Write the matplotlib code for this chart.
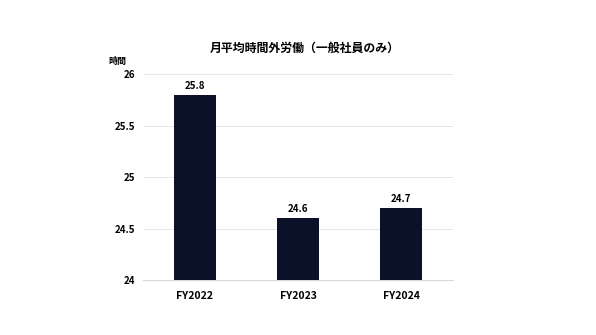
import matplotlib
matplotlib.use("Agg")
import matplotlib.pyplot as plt

plt.rcParams['font.family'] = ['Noto Sans CJK JP', 'DejaVu Sans']

years = ["FY2022", "FY2023", "FY2024"]
hours = [25.8, 24.6, 24.7]
y_ticks = [24, 24.5, 25, 25.5, 26]
y_tick_labels = ["24", "24.5", "25", "25.5", "26"]

fig = plt.figure(figsize=(5.96, 3.35), dpi=100)
ax = fig.add_axes([0.24, 0.164, 0.52, 0.615])

x = range(len(years))
ax.bar(x, [h - 24 for h in hours], bottom=24, width=0.41, color="#0b1128", zorder=3)
for i, h in zip(x, hours):
    ax.text(i, h + 0.04, f"{h}", ha="center", va="bottom", fontsize=7, fontweight="bold")

ax.set_xlim(-0.5, 2.5)
ax.set_ylim(24, 26)
ax.set_yticks(y_ticks)
ax.set_yticklabels(y_tick_labels, fontsize=7, fontweight="bold")
ax.set_xticks(list(x))
ax.set_xticklabels(years, fontsize=7.5, fontweight="bold")
ax.grid(axis="y", color="#e6e6e6", linewidth=0.7, zorder=0)
for s in ["top", "right", "left"]:
    ax.spines[s].set_visible(False)
ax.spines["bottom"].set_color("#d9d9d9")
ax.tick_params(axis="both", length=0, pad=6)
ax.tick_params(axis="x", pad=8)

fig.text(0.512, 0.857, "月平均時間外労働（一般社員のみ）", ha="center", va="center",
         fontsize=8.6, fontweight="bold")
fig.text(0.197, 0.815, "時間", ha="center", va="center", fontsize=6.5, fontweight="bold")

fig.savefig("out.png", dpi=100)
